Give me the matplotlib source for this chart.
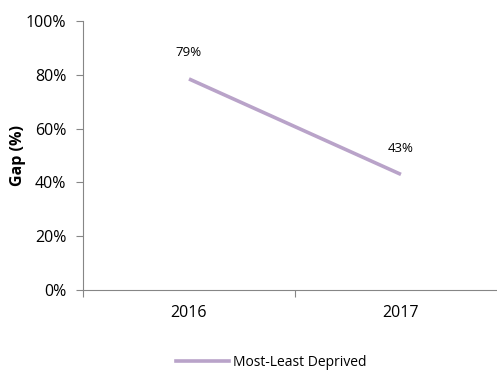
import matplotlib.pyplot as plt
from matplotlib.lines import Line2D

years = ['2016', '2017']
gap = [0.785, 0.43]
labels = ['79%', '43%']
series_name = 'Most-Least Deprived'

plt.rcParams['font.family'] = ['Open Sans', 'DejaVu Sans']

fig = plt.figure(figsize=(4.97, 3.70), dpi=100)
ax = fig.add_axes([0.167, 0.216, 0.853, 0.727])

x = [0.5, 1.5]
line_color = '#b9a3c9'
ax.plot(x, gap, color=line_color, lw=2.6, solid_capstyle='butt')
for xi, yi, lab in zip(x, gap, labels):
    ax.annotate(lab, (xi, yi), xytext=(0, 14), textcoords='offset points',
                ha='center', va='bottom', fontsize=9.5)

ax.set_xlim(0, 2)
ax.set_ylim(0, 1)
ax.set_yticks([0, 0.2, 0.4, 0.6, 0.8, 1.0])
ax.set_yticklabels(['0%', '20%', '40%', '60%', '80%', '100%'], fontsize=11.5)
ax.set_xticks([0, 1, 2])
ax.set_xticklabels([])
ax.set_xticks(x, minor=True)
ax.set_xticklabels(years, minor=True, fontsize=11.5)
ax.tick_params(axis='x', which='minor', length=0, pad=11)
ax.tick_params(axis='x', which='major', length=5, color='#868686')
ax.tick_params(axis='y', length=5, color='#868686', pad=7)

for s in ['top', 'right']:
    ax.spines[s].set_visible(False)
for s in ['left', 'bottom']:
    ax.spines[s].set_color('#868686')

ax.set_ylabel('Gap (%)', fontsize=11.5, fontweight='bold', labelpad=0)

handle = Line2D([], [], color=line_color, lw=2.6)
fig.legend([handle], [series_name], loc='center', bbox_to_anchor=(0.546, 0.02),
           frameon=False, fontsize=10, handlelength=3.8, handletextpad=0.3)

fig.savefig('out.png', dpi=100)
